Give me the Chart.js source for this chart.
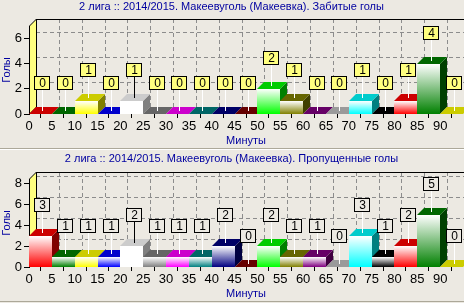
<!DOCTYPE html>
<html><head><meta charset="utf-8">
<script src="https://cdn.jsdelivr.net/npm/chart.js@4/dist/chart.umd.min.js"></script>
<style>
html,body{margin:0;padding:0;background:#ECE9E2;}
body{width:464px;height:303px;overflow:hidden;}
#w1{width:464px;height:148px;}
#sep{width:464px;height:1px;background:#ACA899;border-bottom:1px solid #fff;}
#w2{width:464px;height:151px;border-bottom:1px solid #ACA899;}
canvas{display:block;}
</style></head><body>
<div id="w1"><canvas id="c1" width="464" height="148"></canvas></div>
<div id="sep"></div>
<div id="w2"><canvas id="c2" width="464" height="151"></canvas></div>
<script>
// ---- data ----
const intervalStarts = [0,5,10,15,20,25,30,35,40,45,50,55,60,65,70,75,80,85,90];
const xTickValues = [0,5,10,15,20,25,30,35,40,45,50,55,60,65,70,75,80,85,90];
const scoredGoals   = [0,0,1,0,1,0,0,0,0,0,2,1,0,0,1,0,1,4,0];
const concededGoals = [3,1,1,1,2,1,1,1,2,0,2,1,1,0,3,1,2,5,0];
const titleScored   = '2 лига :: 2014/2015. Макеевуголь (Макеевка). Забитые голы';
const titleConceded = '2 лига :: 2014/2015. Макеевуголь (Макеевка). Пропущенные голы';
const xTitle = 'Минуты';
const yTitle = 'Голы';

// ---- styles ----
const palette = ['#FF0000','#008000','#FFFF00','#0000FF','#FFFFFF','#808080','#FF00FF','#008080',
                 '#000080','#800000','#00FF00','#808000','#800080','#C0C0C0','#00FFFF','#000000'];
const BLUE = '#0000A0';
const FONT = 'Liberation Sans';
const D = 7;

function shade(hex, f){
  const n = parseInt(hex.slice(1),16);
  const r = Math.round(((n>>16)&255)*f), g = Math.round(((n>>8)&255)*f), b = Math.round((n&255)*f);
  return `rgb(${r},${g},${b})`;
}

function makePlugin(values, markFill){
  return {
    id: 'fake3d',
    beforeDatasetsDraw(chart){
      const ctx = chart.ctx, {left, right, top, bottom} = chart.chartArea;
      const xs = chart.scales.x, ys = chart.scales.y;
      ctx.save();
      ctx.setLineDash([4,3]);
      ctx.strokeStyle = '#8C8C8C';
      ctx.lineWidth = 1;
      xs.ticks.forEach(t => {
        if (t.value === 0) return;
        const px = Math.round(xs.getPixelForValue(t.value) + D) + 0.5;
        ctx.beginPath(); ctx.moveTo(px, top - D); ctx.lineTo(px, bottom - D); ctx.stroke();
      });
      ys.ticks.forEach(t => {
        if (t.value === 0) return;
        const py = Math.round(ys.getPixelForValue(t.value) - D) + 0.5;
        ctx.beginPath(); ctx.moveTo(left + D, py); ctx.lineTo(right + D, py); ctx.stroke();
      });
      ctx.setLineDash([]);
      ctx.strokeStyle = '#000';
      ctx.beginPath(); ctx.moveTo(left + D, Math.round(top - D) + 0.5); ctx.lineTo(right + D, Math.round(top - D) + 0.5); ctx.stroke();
      const l = Math.round(left) + 0.5;
      ctx.beginPath();
      ctx.moveTo(l, bottom); ctx.lineTo(l, top); ctx.lineTo(l + D, top - D); ctx.lineTo(l + D, bottom - D); ctx.closePath();
      ctx.fillStyle = '#FFFF80'; ctx.fill();
      ctx.strokeStyle = '#000'; ctx.stroke();
      ctx.restore();
    },
    afterDatasetsDraw(chart){
      const ctx = chart.ctx;
      const meta = chart.getDatasetMeta(0);
      ctx.save();
      meta.data.forEach((el, i) => {
        const p = el.getProps(['x','y','base','width'], true);
        const x1 = Math.round(p.x - p.width/2), x2 = Math.round(p.x + p.width/2);
        const yt = Math.round(p.y), yb = Math.round(p.base);
        const col = palette[i % palette.length];
        if (yb - yt > 0) {
          const g = ctx.createLinearGradient(0, yt, 0, yb);
          g.addColorStop(0, '#FFFFFF'); g.addColorStop(1, col);
          ctx.fillStyle = g;
          ctx.fillRect(x1, yt, x2 - x1, yb - yt);
          ctx.beginPath();
          ctx.moveTo(x2, yt); ctx.lineTo(x2 + D, yt - D); ctx.lineTo(x2 + D, yb - D); ctx.lineTo(x2, yb); ctx.closePath();
          ctx.fillStyle = shade(col, 0.5); ctx.fill();
        }
        ctx.beginPath();
        ctx.moveTo(x1, yt); ctx.lineTo(x2, yt); ctx.lineTo(x2 + D, yt - D); ctx.lineTo(x1 + D, yt - D); ctx.closePath();
        ctx.fillStyle = shade(col, 0.8); ctx.fill();
      });
      ctx.font = `12px "${FONT}"`;
      ctx.textAlign = 'center'; ctx.textBaseline = 'middle';
      meta.data.forEach((el, i) => {
        const v = values[i];
        const col = palette[i % palette.length];
        const lx = Math.round(el.x + 2);
        const boxB = Math.round(el.y - 24);
        const tw = ctx.measureText(String(v)).width;
        const bw = Math.round(tw + 9), bh = 14;
        ctx.strokeStyle = col === '#FFFFFF' ? '#000' : '#FFF';
        ctx.lineWidth = 1;
        ctx.beginPath(); ctx.moveTo(lx + 0.5, boxB); ctx.lineTo(lx + 0.5, Math.round(el.y - 3)); ctx.stroke();
        const bx = Math.round(lx - bw/2);
        ctx.fillStyle = markFill;
        ctx.fillRect(bx, boxB - bh, bw, bh);
        ctx.strokeStyle = '#000';
        ctx.strokeRect(bx + 0.5, boxB - bh + 0.5, bw - 1, bh - 1);
        ctx.fillStyle = '#000';
        ctx.fillText(String(v), lx + 0.5, boxB - bh/2 + 0.5);
      });
      ctx.restore();
    }
  };
}

function makeChart(id, values, title, yMax, markFill, titlePad, xHeight, xTitlePadB){
  return new Chart(document.getElementById(id), {
    type: 'bar',
    data: {
      datasets: [{
        data: intervalStarts.map((s, i) => ({x: s + 2.5, y: values[i]})),
        backgroundColor: 'rgba(0,0,0,0)',
        borderWidth: 0,
        barPercentage: 1,
        categoryPercentage: 1
      }]
    },
    options: {
      responsive: false,
      animation: false,
      devicePixelRatio: 1,
      layout: {padding: {left: 0, right: 1, top: 0, bottom: 0}},
      plugins: {
        legend: {display: false},
        tooltip: {enabled: false},
        title: {display: true, text: title, color: BLUE,
                font: {family: FONT, size: 11, weight: 'normal'}, padding: titlePad}
      },
      scales: {
        x: {
          type: 'linear', min: 0, max: 95, offset: false,
          afterBuildTicks: s => { s.ticks = xTickValues.map(v => ({value: v})); },
          afterFit: s => { s.height = xHeight; },
          ticks: {autoSkip: false, maxRotation: 0, color: '#000', padding: 1,
                  font: {family: FONT, size: 13}},
          grid: {display: true, drawOnChartArea: false, drawTicks: true, tickLength: 4, color: '#000'},
          border: {display: false},
          title: {display: true, text: xTitle, color: BLUE,
                  font: {family: FONT, size: 11}, padding: {top: 0, bottom: xTitlePadB}}
        },
        y: {
          min: 0, max: yMax,
          afterFit: s => { s.width = 29; },
          ticks: {stepSize: 2, includeBounds: false, color: '#000', padding: 2,
                  font: {family: FONT, size: 13}},
          grid: {display: true, drawOnChartArea: false, drawTicks: true, tickLength: 5, color: '#000'},
          border: {display: true, color: '#000'},
          title: {display: true, text: yTitle, color: BLUE,
                  font: {family: FONT, size: 11}, padding: {top: 0, bottom: 0}}
        }
      }
    },
    plugins: [makePlugin(values, markFill)]
  });
}

makeChart('c1', scoredGoals, titleScored, 7, '#FFFF80', {top: 0, bottom: 12.8}, 34, 0);
makeChart('c2', concededGoals, titleConceded, 8.4, '#ECE9E2', {top: 2, bottom: 13.8}, 34, 0.8);
</script>
</body></html>
